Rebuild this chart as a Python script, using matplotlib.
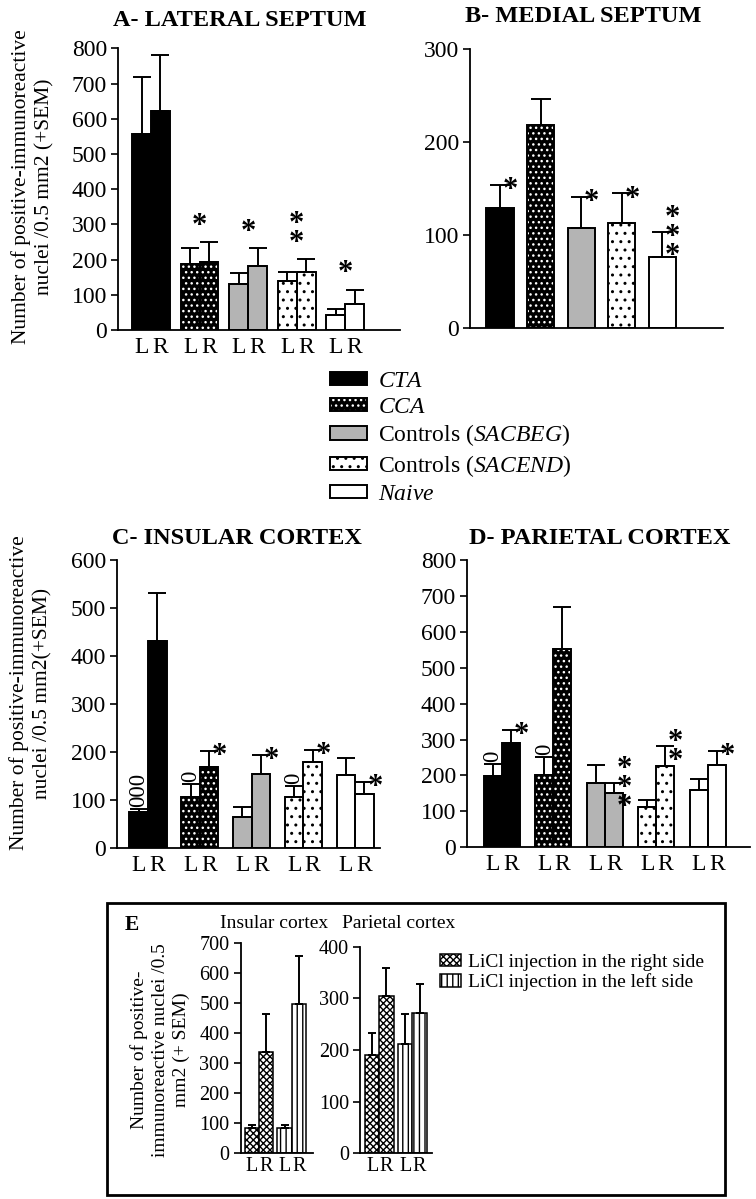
import matplotlib
matplotlib.use("Agg")
import matplotlib.pyplot as plt
from matplotlib.patches import Patch, Rectangle
import numpy as np

plt.rcParams['font.family'] = ['Liberation Serif', 'DejaVu Serif']
plt.rcParams['mathtext.fontset'] = 'custom'
plt.rcParams['mathtext.rm'] = 'Liberation Serif'
plt.rcParams['mathtext.it'] = 'Liberation Serif:italic'
plt.rcParams['hatch.linewidth'] = 1.0

W, H = 756, 1199

# groups (legend order)
GROUP_LABELS = [r'$\mathit{CTA}$', r'$\mathit{CCA}$', r'Controls ($\mathit{SACBEG}$)',
                r'Controls ($\mathit{SACEND}$)', r'$\mathit{Naive}$']

# A - lateral septum (mean, SEM), left / right
A_L = [556, 187, 131, 138, 42]
A_L_SEM = [162, 45, 32, 27, 17]
A_R = [623, 193, 183, 166, 75]
A_R_SEM = [158, 56, 50, 35, 39]
A_MARKS = [(1, '*'), (2, '*'), (3, '*\n*'), (4, '*')]

# B - medial septum (single bar per group)
B_VAL = [129, 219, 108, 113, 77]
B_SEM = [25, 28, 33, 32, 27]
B_MARKS = [(0, '*'), (2, '*'), (3, '*'), (4, '*\n*\n*')]

# C - insular cortex
C_L = [74, 106, 64, 106, 152]
C_L_SEM = [7, 27, 21, 22, 36]
C_R = [432, 168, 153, 178, 113]
C_R_SEM = [100, 33, 41, 25, 25]
C_MARKS = [(0, 'L', '000'), (1, 'L', '0'), (1, 'R', '*'), (2, 'R', '*'),
           (3, 'L', '0'), (3, 'R', '*'), (4, 'R', '*')]

# D - parietal cortex
D_L = [199, 202, 179, 111, 160]
D_L_SEM = [33, 49, 49, 21, 30]
D_R = [290, 551, 151, 225, 230]
D_R_SEM = [36, 119, 28, 56, 37]
D_MARKS = [(0, 'L', '0'), (0, 'R', '*'), (1, 'L', '0'), (2, 'R', '*\n*\n*'),
           (3, 'R', '*\n*'), (4, 'R', '*')]

# E - LiCl injection side
E_SERIES = ['LiCl injection in the right side', 'LiCl injection in the left side']
E_INS = [[83, 339], [83, 497]]
E_INS_SEM = [[11, 125], [11, 161]]
E_PAR = [[190, 304], [211, 271]]
E_PAR_SEM = [[43, 54], [58, 56]]

GRAY = '#b4b4b4'
STYLES = [
    dict(fc='black', hatch=None, hc='black'),
    dict(fc='black', hatch='...', hc='white'),
    dict(fc=GRAY, hatch=None, hc=GRAY),
    dict(fc='white', hatch='..', hc='black'),
    dict(fc='white', hatch=None, hc='white'),
]
E_HATCH = ['xxxxx', '|||']

fig = plt.figure(figsize=(W / 100, H / 100), dpi=100)


def px_axes(x0, x1, ytop, ybot):
    return fig.add_axes([x0 / W, 1 - ybot / H, (x1 - x0) / W, (ybot - ytop) / H])


def setup(ax, ymax, step, xlim, fs=17):
    ax.set_xlim(*xlim)
    ax.set_ylim(0, ymax)
    for s in ['top', 'right']:
        ax.spines[s].set_visible(False)
    for s in ['left', 'bottom']:
        ax.spines[s].set_linewidth(1.3)
    ax.set_yticks(np.arange(0, ymax + 1, step))
    ax.tick_params(axis='y', direction='out', length=5, width=1.2, labelsize=fs, pad=3)
    ax.tick_params(axis='x', length=0, labelsize=fs, pad=5)
    ax.patch.set_alpha(0)


def styled_bar(ax, x, h, w, st):
    ax.bar(x, h, w, color=st['fc'], edgecolor=st['hc'], hatch=st['hatch'], linewidth=0, zorder=2)
    ax.bar(x, h, w, fill=False, edgecolor='black', linewidth=1.4, zorder=3)


def sem_bars(ax, x, h, sem, cap=6.5):
    ax.errorbar(x, h, yerr=[np.zeros(len(h)), sem], fmt='none', ecolor='black',
                elinewidth=1.4, capsize=cap, capthick=1.4, zorder=4)


def star_right(ax, x, y, text):
    ax.annotate(text, (x, y), xytext=(2, -4), textcoords='offset points', ha='left',
                va='center', fontsize=22, linespacing=0.55, fontweight='bold')


def ring(ax, x, y, text):
    ax.annotate(text, (x, y), xytext=(0, 1.5), textcoords='offset points', rotation=90,
                ha='center', va='bottom', fontsize=16.5)


def pair_panel(ax, left, lsem, right, rsem, width):
    idx = np.arange(len(left))
    xl, xr = idx - width / 2, idx + width / 2
    for i, st in enumerate(STYLES):
        styled_bar(ax, xl[i], left[i], width, st)
        styled_bar(ax, xr[i], right[i], width, st)
    sem_bars(ax, xl, left, lsem)
    sem_bars(ax, xr, right, rsem)
    ax.set_xticks(list(xl) + list(xr))
    ax.set_xticklabels(['L'] * len(xl) + ['R'] * len(xr))
    return xl, xr


def side_marks(ax, marks, xl, xr, left, lsem, right, rsem):
    for g, side, text in marks:
        if side == 'L':
            x, top = xl[g], left[g] + lsem[g]
        else:
            x, top = xr[g], right[g] + rsem[g]
        if '*' in text:
            star_right(ax, x, top, text)
        else:
            ring(ax, x, top, text)


# ---- A ----
axA = px_axes(118, 400, 48.3, 330)
xl, xr = pair_panel(axA, A_L, A_L_SEM, A_R, A_R_SEM, 0.39)
setup(axA, 800, 100, (-0.68, 5.13))
for g, text in A_MARKS:
    top = max(A_L[g] + A_L_SEM[g], A_R[g] + A_R_SEM[g])
    axA.annotate(text, (g, top), xytext=(0, 1), textcoords='offset points', ha='center',
                 va='bottom', fontsize=22, linespacing=0.55, fontweight='bold')

# ---- B ----
axB = px_axes(470, 723, 49.3, 328.3)
idx = np.arange(len(B_VAL))
for i, st in enumerate(STYLES):
    styled_bar(axB, idx[i], B_VAL[i], 0.67, st)
sem_bars(axB, idx, B_VAL, B_SEM, cap=7)
setup(axB, 300, 100, (-0.74, 5.5))
axB.set_xticks([])
for g, text in B_MARKS:
    star_right(axB, idx[g], B_VAL[g] + B_SEM[g], text)

# ---- C ----
axC = px_axes(117, 380, 560, 847.7)
xl, xr = pair_panel(axC, C_L, C_L_SEM, C_R, C_R_SEM, 0.36)
setup(axC, 600, 100, (-0.6, 4.48))
side_marks(axC, C_MARKS, xl, xr, C_L, C_L_SEM, C_R, C_R_SEM)

# ---- D ----
axD = px_axes(467, 750, 560, 847.3)
xl, xr = pair_panel(axD, D_L, D_L_SEM, D_R, D_R_SEM, 0.35)
setup(axD, 800, 100, (-0.68, 4.82))
side_marks(axD, D_MARKS, xl, xr, D_L, D_L_SEM, D_R, D_R_SEM)

# titles and y labels
title_kw = dict(fontsize=17.5, fontweight='bold', ha='center', va='center')
fig.text(240 / W, 1 - 20 / H, 'A- LATERAL SEPTUM', **title_kw)
fig.text(583 / W, 1 - 17 / H, 'B- MEDIAL SEPTUM', **title_kw)
fig.text(237 / W, 1 - 539 / H, 'C- INSULAR CORTEX', **title_kw)
fig.text(600 / W, 1 - 539 / H, 'D- PARIETAL CORTEX', **title_kw)
ylab_kw = dict(fontsize=15.5, rotation=90, ha='center', va='center', linespacing=1.3,
               multialignment='center')
fig.text(33 / W, 1 - 187 / H, 'Number of positive-immunoreactive\nnuclei /0.5 mm2 (+SEM)', **ylab_kw)
fig.text(31 / W, 1 - 693 / H, 'Number of positive-immunoreactive\nnuclei /0.5 mm2(+SEM)', **ylab_kw)

# legend for A-D
handles = []
for st in STYLES:
    handles.append((Patch(facecolor=st['fc'], edgecolor=st['hc'], hatch=st['hatch'], linewidth=0),
                    Patch(fill=False, edgecolor='black', linewidth=1.4)))
fig.legend(handles, GROUP_LABELS, loc='upper left', bbox_to_anchor=(330 / W, 1 - 371 / H),
           frameon=False, fontsize=17, handlelength=1.57, handleheight=0.5,
           handletextpad=0.45, labelspacing=0.2, borderpad=0, borderaxespad=0)

# ---- E ----
fig.add_artist(Rectangle((107 / W, 1 - 1195 / H), (725 - 107) / W, (1195 - 903) / H,
                         transform=fig.transFigure, fill=False, linewidth=2, edgecolor='black'))
fig.text(132 / W, 1 - 925 / H, 'E', fontsize=15.5, fontweight='bold', ha='center', va='center')
fig.text(274 / W, 1 - 923 / H, 'Insular cortex', fontsize=14, ha='center', va='center')
fig.text(399 / W, 1 - 923 / H, 'Parietal cortex', fontsize=14, ha='center', va='center')
fig.text(160 / W, 1 - 1050 / H, 'Number of positive-\nimmunoreactive nuclei /0.5\nmm2 (+ SEM)',
         fontsize=14, rotation=90, ha='center', va='center', linespacing=1.3,
         multialignment='center')


def e_panel(ax, vals, sems, width):
    idx = np.arange(2)
    xs = [idx - width / 2, idx + width / 2]
    for s in range(2):
        for g in range(2):
            ax.bar(xs[s][g], vals[g][s], width, color='white',
                   edgecolor='black', hatch=E_HATCH[g], linewidth=1.1, zorder=2)
    for g in range(2):
        x = [xs[0][g], xs[1][g]]
        sem_bars(ax, x, vals[g], sems[g], cap=3)
    ax.set_xticks(list(xs[0]) + list(xs[1]))
    ax.set_xticklabels(['L'] * 2 + ['R'] * 2)


axEi = px_axes(240.5, 312.5, 943.3, 1153.3)
e_panel(axEi, E_INS, E_INS_SEM, 0.436)
setup(axEi, 700, 100, (-0.56, 1.63), fs=14.5)
axEi.tick_params(axis='x', pad=3, labelsize=14.5)

axEp = px_axes(360, 432, 946.7, 1153.3)
e_panel(axEp, E_PAR, E_PAR_SEM, 0.43)
setup(axEp, 400, 100, (-0.58, 1.59), fs=14.5)
axEp.tick_params(axis='x', pad=3, labelsize=14.5)

e_handles = [Patch(facecolor='white', edgecolor='black', hatch=h, linewidth=1.1) for h in E_HATCH]
fig.legend(e_handles, E_SERIES, loc='upper left', bbox_to_anchor=(440 / W, 1 - 954 / H),
           frameon=False, fontsize=14, handlelength=1.1, handleheight=0.6,
           handletextpad=0.35, labelspacing=0.12, borderpad=0, borderaxespad=0)

fig.savefig('out.png', dpi=100)
